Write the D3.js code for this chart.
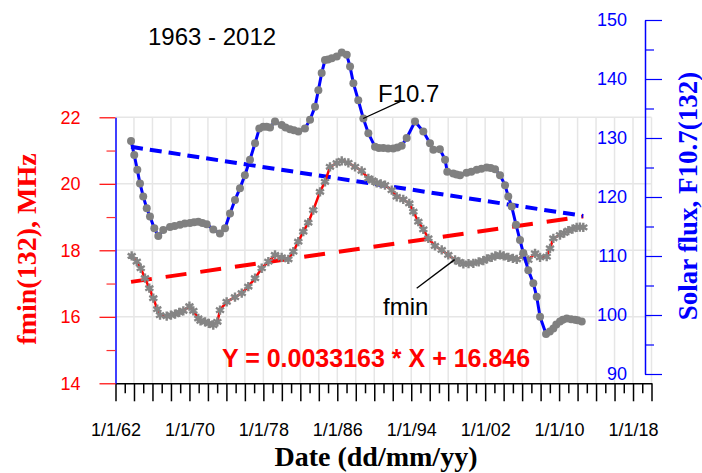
<!DOCTYPE html>
<html>
<head>
<meta charset="utf-8">
<script src="https://cdn.jsdelivr.net/npm/d3@7"></script>
<style>
  body { margin: 0; background: #fff; }
  svg { display: block; }
</style>
</head>
<body>
<div id="chart"></div>
<script>
// F10.7 (132-month running mean)
var f107Years = [1963.68, 1964.03, 1964.36, 1964.65, 1965.0, 1965.38, 1965.73, 1966.2, 1966.63, 1967.17,
  1967.9, 1968.4, 1968.98, 1969.5, 1970.06, 1970.5, 1970.96, 1971.4, 1971.87, 1972.58,
  1973.3, 1973.85, 1974.39, 1974.93, 1975.47, 1976.0, 1976.55, 1977.1, 1977.56, 1977.99,
  1978.35, 1978.72, 1979.26, 1979.98, 1980.4, 1980.88, 1981.3, 1981.78, 1982.5, 1983.05,
  1983.59, 1983.95, 1984.31, 1984.67, 1985.0, 1985.4, 1985.94, 1986.48, 1987.02, 1987.38,
  1987.74, 1988.27, 1988.82, 1989.36, 1990.08, 1990.5, 1990.98, 1991.5, 1992.06, 1992.5,
  1992.97, 1993.51, 1994.41, 1995.31, 1996.03, 1996.4, 1997.1, 1997.66, 1997.9, 1998.55,
  1998.9, 1999.28, 1999.99, 2000.5, 2001.09, 2001.6, 2002.17, 2002.6, 2003.07, 2003.61,
  2004.15, 2004.5, 2004.87, 2005.34, 2005.77, 2006.13, 2006.67, 2007.21, 2007.58, 2007.94,
  2008.59, 2009.0, 2009.38, 2009.7, 2010.1, 2010.4, 2010.83, 2011.3, 2011.72, 2012.0, 2012.45];
var f107Values = [129.5, 127.1, 124.6, 122.3, 120.1, 118.1, 116.7, 114.7, 113.4, 114.4,
  114.9, 115.1, 115.3, 115.5, 115.6, 115.7, 115.8, 115.6, 115.4, 114.5,
  113.8, 114.7, 117.2, 119.5, 121.5, 123.7, 126.3, 129.1, 131.6, 131.9,
  131.9, 131.8, 132.8, 132.2, 131.8, 131.5, 131.3, 131.1, 131.6, 133.1,
  135.3, 138.1, 141.0, 143.2, 143.3, 143.5, 143.8, 144.5, 144.1, 142.1,
  139.3, 136.4, 133.3, 130.8, 128.5, 128.3, 128.3, 128.2, 128.2, 128.4,
  128.7, 130.0, 132.8, 131.1, 129.1, 128.0, 128.1, 126.3, 124.3, 124.0,
  123.8, 123.7, 124.1, 124.3, 124.6, 124.8, 125.0, 124.9, 124.7, 123.7,
  122.0, 120.1, 118.4, 115.3, 112.7, 110.5, 107.6, 105.4, 103.1, 99.7,
  96.8, 97.2, 97.7, 98.4, 98.9, 99.2, 99.4, 99.3, 99.2, 99.1, 98.9];

// fmin (132-month running mean), MHz
var fminYears = [1963.75, 1964.3, 1964.73, 1965.19, 1965.66, 1966.09, 1966.52, 1966.82, 1967.54, 1968.0,
  1968.44, 1968.9, 1969.34, 1970.0, 1970.42, 1970.96, 1971.2, 1971.69, 1972.1, 1972.58,
  1973.02, 1973.31, 1974.03, 1974.93, 1975.66, 1976.37, 1977.1, 1977.82, 1978.54, 1979.26,
  1979.98, 1980.7, 1981.24, 1981.78, 1982.32, 1982.86, 1983.4, 1984.13, 1984.67, 1985.21,
  1985.94, 1986.48, 1987.2, 1987.92, 1988.64, 1989.36, 1989.8, 1990.26, 1990.7, 1991.16,
  1991.89, 1992.43, 1993.14, 1993.79, 1994.23, 1994.77, 1995.31, 1995.85, 1996.57, 1997.3,
  1998.01, 1998.74, 1999.2, 1999.64, 2000.2, 2000.72, 2001.3, 2001.8, 2002.2, 2002.71,
  2003.1, 2003.61, 2004.0, 2004.51, 2005.0, 2005.42, 2006.13, 2006.67, 2007.4, 2007.94,
  2008.66, 2009.02, 2009.38, 2010.1, 2010.55, 2011.0, 2011.45, 2011.9, 2012.25, 2012.62];
var fminValues = [17.83, 17.66, 17.46, 17.16, 16.86, 16.56, 16.23, 16.05, 16.02, 16.05,
  16.08, 16.13, 16.18, 16.32, 16.18, 15.95, 15.88, 15.85, 15.8, 15.75,
  15.85, 16.2, 16.45, 16.59, 16.71, 16.91, 17.16, 17.46, 17.66, 17.86,
  17.79, 17.73, 17.96, 18.26, 18.56, 18.83, 19.21, 19.76, 20.06, 20.51,
  20.62, 20.69, 20.63, 20.51, 20.39, 20.16, 20.1, 20.03, 20.0, 19.96,
  19.81, 19.61, 19.53, 19.41, 19.16, 18.86, 18.63, 18.36, 18.13, 18.01,
  17.86, 17.71, 17.65, 17.59, 17.6, 17.61, 17.65, 17.69, 17.74, 17.79,
  17.83, 17.86, 17.83, 17.79, 17.76, 17.73, 17.83, 17.71, 17.91, 17.79,
  17.81, 18.06, 18.36, 18.46, 18.52, 18.59, 18.64, 18.69, 18.7, 18.69];

// linear trends (end points)
var trendYears = [1963.68, 2012.62];
var f107Trend = [128.5, 116.8];
var fminTrend = [17.05, 19.02];

// axis ticks
var xLabelYears = [1962, 1970, 1978, 1986, 1994, 2002, 2010, 2018];
var leftMajor = [14, 16, 18, 20, 22];
var leftMinor = [15, 17, 19, 21];
var rightMajor = [90, 100, 110, 120, 130, 140, 150];
var rightMinor = [95, 105, 115, 125, 135, 145];

var width = 702, height = 473;

var svg = d3.select("#chart")
  .append("svg")
    .attr("width", width)
    .attr("height", height)
    .style("font-family", "Arial, 'Liberation Sans', sans-serif");

var x = d3.scaleLinear().domain([1962, 2020]).range([115.5, 651.5]);
var yL = d3.scaleLinear().domain([14, 22]).range([383.3, 117.3]);
var yR = d3.scaleLinear().domain([90, 150]).range([374, 20]);

var evenYears = d3.range(1962, 2021, 2);
var oddYears = d3.range(1963, 2020, 2);

// grid
var grid = svg.append("g").attr("stroke", "#e6e6e6").attr("stroke-width", 1.5);
grid.selectAll("line.v")
  .data(evenYears.slice(1))
  .enter().append("line")
    .attr("x1", function(d) { return x(d); })
    .attr("x2", function(d) { return x(d); })
    .attr("y1", yL(22))
    .attr("y2", yL(14));
grid.selectAll("line.h")
  .data([16, 18, 20, 22])
  .enter().append("line")
    .attr("x1", x(1962))
    .attr("x2", x(2020))
    .attr("y1", function(d) { return yL(d); })
    .attr("y2", function(d) { return yL(d); });

// bottom axis
var fmtYear = function(d) {
  return xLabelYears.indexOf(d) >= 0 ? "1/1/" + String(d).slice(2) : "";
};
var gx = svg.append("g")
  .attr("transform", "translate(0," + yL(14) + ")")
  .call(d3.axisBottom(x).tickValues(evenYears).tickSize(18).tickSizeOuter(0)
    .tickPadding(22).tickFormat(fmtYear));
svg.append("g")
  .attr("transform", "translate(0," + yL(14) + ")")
  .call(d3.axisBottom(x).tickValues(oddYears).tickSize(10).tickSizeOuter(0).tickFormat(""))
  .select(".domain").remove();
svg.selectAll("g.tick line").attr("stroke", "#000").attr("stroke-width", 1.5);
gx.select(".domain").attr("stroke", "#000").attr("stroke-width", 1.5);
gx.selectAll("text")
  .attr("font-family", "Arial, 'Liberation Sans', sans-serif")
  .attr("font-size", 18)
  .attr("fill", "#000");

// left axis
var gl = svg.append("g")
  .attr("transform", "translate(" + x(1962) + ",0)")
  .call(d3.axisLeft(yL).tickValues(leftMajor).tickSize(16).tickSizeOuter(0).tickPadding(19));
var glm = svg.append("g")
  .attr("transform", "translate(" + x(1962) + ",0)")
  .call(d3.axisLeft(yL).tickValues(leftMinor).tickSize(9).tickSizeOuter(0).tickFormat(""));
glm.select(".domain").remove();
gl.selectAll(".tick line").attr("stroke", "#ff0000").attr("stroke-width", 1.2);
glm.selectAll(".tick line").attr("stroke", "#ff3030").attr("stroke-width", 1.2);
gl.select(".domain").attr("stroke", "#0000ff").attr("stroke-width", 1.5);
gl.selectAll("text")
  .attr("font-family", "Arial, 'Liberation Sans', sans-serif")
  .attr("font-size", 18)
  .attr("fill", "#ff0000");

// right axis (ticks point outwards, labels sit inside)
var gr = svg.append("g")
  .attr("transform", "translate(645,0)")
  .call(d3.axisLeft(yR).tickValues(rightMajor).tickSize(-17).tickSizeOuter(0).tickPadding(18));
var grm = svg.append("g")
  .attr("transform", "translate(645,0)")
  .call(d3.axisLeft(yR).tickValues(rightMinor).tickSize(-9).tickSizeOuter(0).tickFormat(""));
grm.select(".domain").remove();
gr.selectAll(".tick line").attr("stroke", "#0000ff").attr("stroke-width", 1.2);
grm.selectAll(".tick line").attr("stroke", "#0000ff").attr("stroke-width", 1.2);
gr.select(".domain").attr("stroke", "#0000ff").attr("stroke-width", 1.5);
gr.selectAll("text")
  .attr("font-family", "Arial, 'Liberation Sans', sans-serif")
  .attr("font-size", 18)
  .attr("fill", "#0000ff");

// trend lines
var f107TrendData = trendYears.map(function(d, i) { return [d, f107Trend[i]]; });
var fminTrendData = trendYears.map(function(d, i) { return [d, fminTrend[i]]; });

svg.append("path")
  .datum(fminTrendData)
  .attr("fill", "none")
  .attr("stroke", "#ff0000")
  .attr("stroke-width", 4)
  .attr("stroke-dasharray", "21,14")
  .attr("d", d3.line().x(function(d) { return x(d[0]); }).y(function(d) { return yL(d[1]); }));

svg.append("path")
  .datum(f107TrendData)
  .attr("fill", "none")
  .attr("stroke", "#0000ff")
  .attr("stroke-width", 4)
  .attr("stroke-dasharray", "12,7")
  .attr("d", d3.line().x(function(d) { return x(d[0]); }).y(function(d) { return yR(d[1]); }));

// fmin series
var fminData = fminYears.map(function(d, i) { return [d, fminValues[i]]; });
svg.append("path")
  .datum(fminData)
  .attr("fill", "none")
  .attr("stroke", "#ff0000")
  .attr("stroke-width", 2.5)
  .attr("d", d3.line().x(function(d) { return x(d[0]); }).y(function(d) { return yL(d[1]); }));
svg.selectAll("path.fminpt")
  .data(fminData)
  .enter().append("path")
    .attr("class", "fminpt")
    .attr("transform", function(d) { return "translate(" + x(d[0]) + "," + yL(d[1]) + ")"; })
    .attr("d", d3.symbol().type(d3.symbolAsterisk).size(60))
    .attr("fill", "none")
    .attr("stroke", "#858585")
    .attr("stroke-width", 2.4);

// F10.7 series
var f107Data = f107Years.map(function(d, i) { return [d, f107Values[i]]; });
svg.append("path")
  .datum(f107Data)
  .attr("fill", "none")
  .attr("stroke", "#0000ff")
  .attr("stroke-width", 3)
  .attr("d", d3.line().x(function(d) { return x(d[0]); }).y(function(d) { return yR(d[1]); }));
svg.selectAll("circle.f107pt")
  .data(f107Data)
  .enter().append("circle")
    .attr("class", "f107pt")
    .attr("cx", function(d) { return x(d[0]); })
    .attr("cy", function(d) { return yR(d[1]); })
    .attr("r", 4)
    .attr("fill", "#808080");

// annotations
svg.append("line")
  .attr("x1", x(1988.8)).attr("y1", yR(133.3))
  .attr("x2", 400).attr("y2", 101.7)
  .attr("stroke", "#000").attr("stroke-width", 1.3);
svg.append("text")
  .attr("x", 378).attr("y", 101.7)
  .attr("font-size", 24)
  .text("F10.7");

svg.append("line")
  .attr("x1", x(1998.7)).attr("y1", yL(17.72))
  .attr("x2", 416.7).attr("y2", 288.3)
  .attr("stroke", "#000").attr("stroke-width", 1.3);
svg.append("text")
  .attr("x", 383).attr("y", 315)
  .attr("font-size", 24)
  .text("fmin");

svg.append("text")
  .attr("x", 148).attr("y", 45)
  .attr("font-size", 24)
  .text("1963 - 2012");

svg.append("text")
  .attr("x", 222).attr("y", 366.7)
  .attr("font-size", 25)
  .attr("font-weight", "bold")
  .attr("fill", "#ff0000")
  .text("Y = 0.0033163 * X + 16.846");

// axis titles
svg.append("text")
  .attr("x", 376).attr("y", 466)
  .attr("text-anchor", "middle")
  .attr("font-family", "'Liberation Serif', 'Times New Roman', serif")
  .attr("font-weight", "bold")
  .attr("font-size", 28)
  .text("Date (dd/mm/yy)");

svg.append("text")
  .attr("transform", "translate(36,249) rotate(-90)")
  .attr("text-anchor", "middle")
  .attr("font-family", "'Liberation Serif', 'Times New Roman', serif")
  .attr("font-weight", "bold")
  .attr("font-size", 28)
  .attr("fill", "#ff0000")
  .text("fmin(132), MHz");

svg.append("text")
  .attr("transform", "translate(697,196) rotate(-90)")
  .attr("text-anchor", "middle")
  .attr("font-family", "'Liberation Serif', 'Times New Roman', serif")
  .attr("font-weight", "bold")
  .attr("font-size", 27)
  .attr("fill", "#0000ff")
  .text("Solar flux, F10.7(132)");
</script>
</body>
</html>
